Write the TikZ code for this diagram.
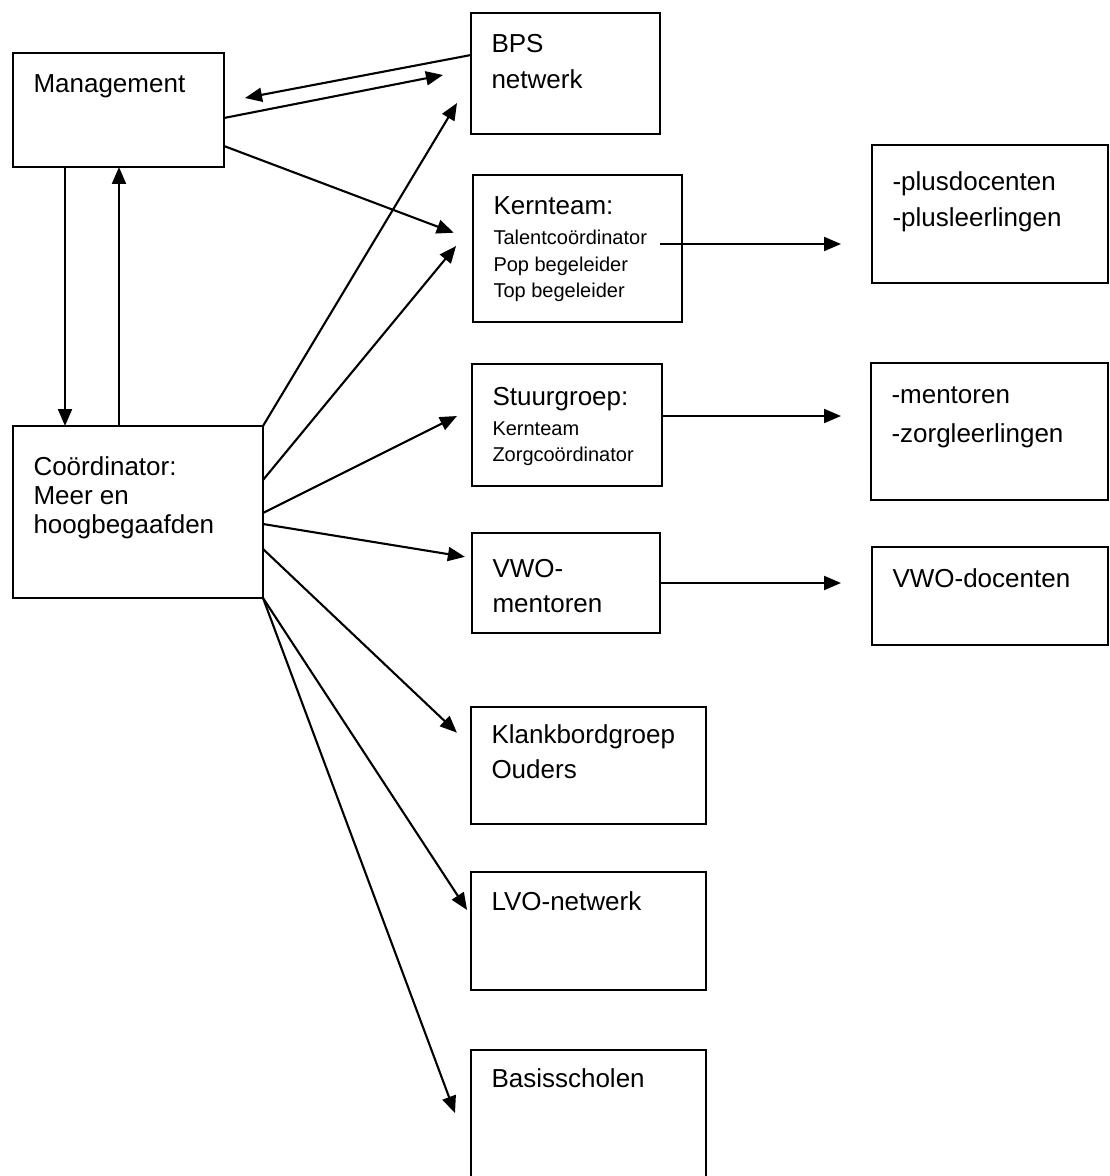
\documentclass[tikz,border=0pt]{standalone}
\usepackage{fontspec}
\setmainfont{Liberation Sans}
\usetikzlibrary{arrows.meta}
\newcommand{\orgbox}[7]{% name, x, y (top left, px), width, height, first baseline, text
  \pgfmathsetlengthmacro{\orgw}{(#4-41)*0.5}%
  \pgfmathsetlengthmacro{\orgh}{#6*0.5}%
  \pgfmathsetlengthmacro{\orgd}{(#5-#6)*0.5}%
  \node[unit, text width=\orgw, text height=\orgh, text depth=\orgd] (#1) at (#2,#3) {#7\par};}
\newcommand{\smalltxt}{\fontsize{10}{13.25}\selectfont}

\begin{document}
\begin{tikzpicture}[x=0.5pt, y=-0.5pt,
    unit/.style={draw, line width=1.1pt, anchor=north west, align=flush left,
      inner xsep=10.25pt, inner ysep=0pt, outer sep=0pt, font=\fontsize{13}{18}\selectfont},
    link/.style={line width=1.05pt, -{Triangle[length=8.5pt, width=7pt]}}]
\useasboundingbox (0,0) rectangle (1109,1176);
\clip (0,0) rectangle (1109,1176);

% ---- left column
\orgbox{mgmt}{13}{53}{211}{114}{40}{Management}
\orgbox{coord}{13}{426}{250}{172}{49}{\fontsize{13}{14.5}\selectfont Coördinator:\\ Meer en\\ hoogbegaafden}

% ---- middle column
\orgbox{bps}{471}{13}{189}{121}{40}{BPS\\ netwerk}
\orgbox{kern}{473}{175}{209}{147}{40}{Kernteam:\\[1.75pt]\smalltxt Talentcoördinator\\ Pop begeleider\\ Top begeleider}
\orgbox{stuur}{472}{364}{190}{122}{41}{Stuurgroep:\\[1.75pt]\smalltxt Kernteam\\ Zorgcoördinator}
\orgbox{vwo}{472}{533}{188}{100}{44}{\fontsize{13}{17.5}\selectfont VWO-\\ mentoren}
\orgbox{klank}{471}{707}{235}{117}{36}{\fontsize{13}{17.5}\selectfont Klankbordgroep\\ Ouders}
\orgbox{lvo}{471}{872}{235}{118}{38}{LVO-netwerk}
\orgbox{basis}{471}{1050}{235}{140}{37}{Basisscholen}

% ---- right column
\orgbox{plus}{872}{145}{236}{138}{46}{-plusdocenten\\ -plusleerlingen}
\orgbox{ment}{871}{363}{237}{137}{40}{\fontsize{13}{19.5}\selectfont -mentoren\\ -zorgleerlingen}
\orgbox{vwod}{872}{547}{236}{98}{40}{VWO-docenten}

% ---- management links
\draw[link, shorten >=10.7pt] ([yshift=-21pt]bps.north west) -- ([yshift=-24.5pt]mgmt.north east);
\draw[link, shorten >=14.3pt] ([yshift=-32.5pt]mgmt.north east) -- ([yshift=-28.25pt]bps.north west);
\draw[link, shorten >=10.3pt] ([yshift=-46.5pt]mgmt.north east) -- ([yshift=-32.5pt]kern.north west);
\draw[link] ([xshift=26pt]mgmt.south west) -- ([xshift=26pt]coord.north west);
\draw[link] ([xshift=53pt]coord.north west) -- ([xshift=53pt]mgmt.south west);

% ---- coordinator fan
\draw[link, shorten >=13.6pt] (coord.north east) -- ([yshift=-33.35pt]bps.north west);
\draw[link, shorten >=13.3pt] ([yshift=-27pt]coord.north east) -- ([yshift=-25.25pt]kern.north west);
\draw[link, shorten >=8.4pt] ([yshift=-43.5pt]coord.north east) -- ([yshift=-22.25pt]stuur.north west);
\draw[link, shorten >=3.6pt] ([yshift=-49pt]coord.north east) -- ([yshift=-12.5pt]vwo.north west);
\draw[link, shorten >=9.7pt] ([yshift=-61.5pt]coord.north east) -- ([yshift=-19.5pt]klank.north west);
\draw[link, shorten >=3.6pt] (coord.south east) -- ([yshift=-22pt]lvo.north west);
\draw[link, shorten >=22.9pt] (coord.south east) -- ([yshift=-53pt]basis.north west);

% ---- to the right column
\draw[link, shorten <=-11pt, shorten >=15.5pt] ([yshift=-34.5pt]kern.north east) -- ([yshift=-49.5pt]plus.north west);
\draw[link, shorten >=15pt] ([yshift=-26pt]stuur.north east) -- ([yshift=-26.5pt]ment.north west);
\draw[link, shorten >=15.5pt] (vwo.east) -- ([yshift=-18pt]vwod.north west);
\end{tikzpicture}
\end{document}
